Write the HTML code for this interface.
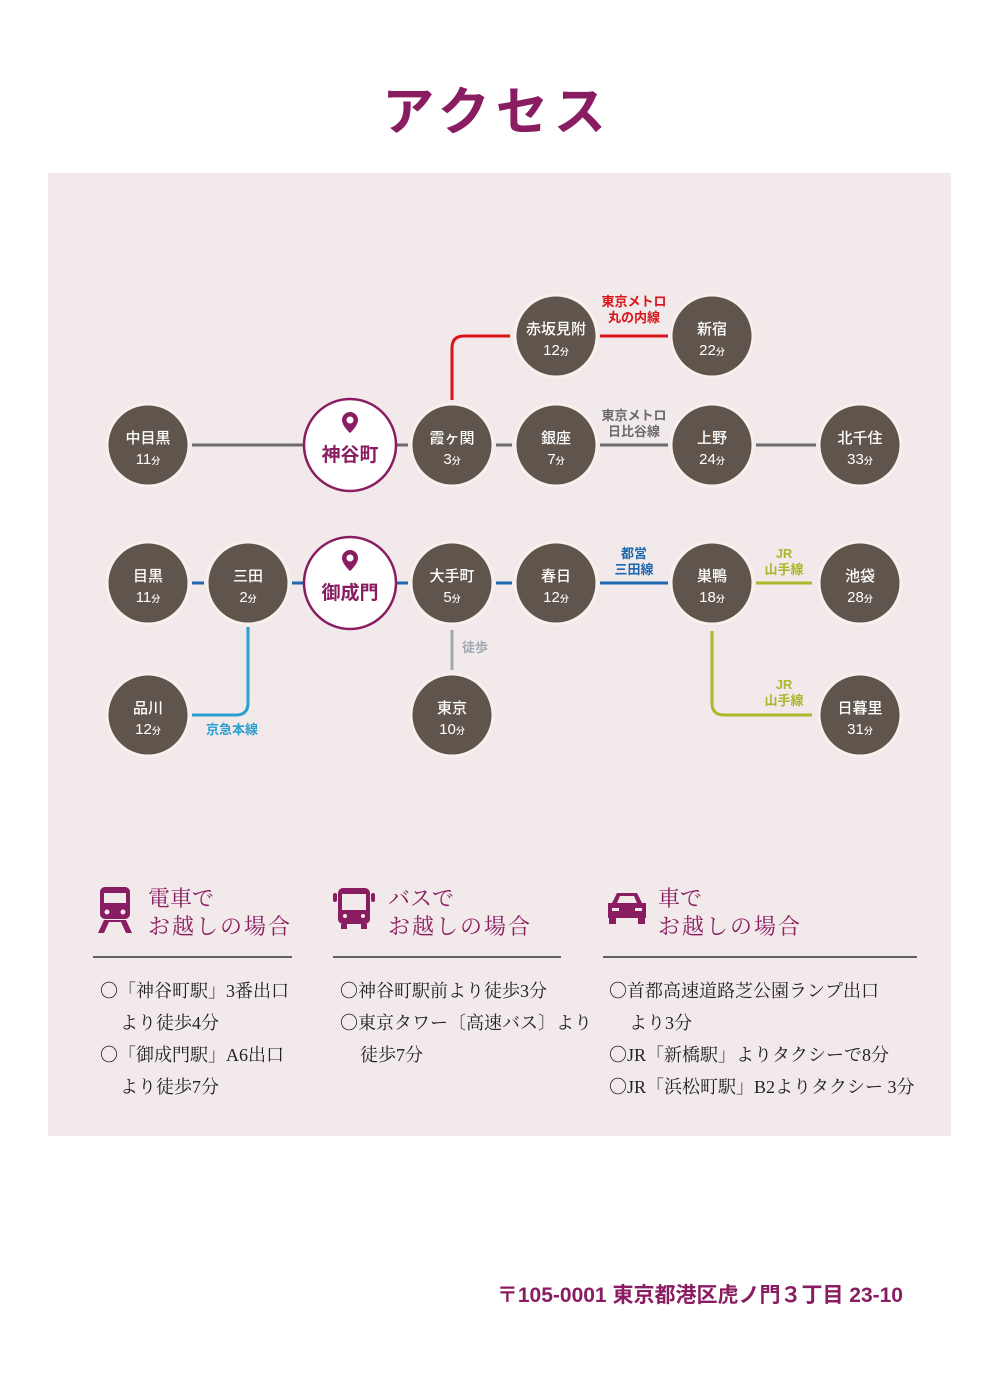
<!DOCTYPE html>
<html><head><meta charset="utf-8"><style>
html,body{margin:0;padding:0;background:#fff;}
svg{display:block}
.st{font-family:"Liberation Sans","Noto Sans CJK JP",sans-serif;fill:#fff;font-weight:500;text-anchor:middle}
.lb{font-family:"Liberation Sans","Noto Sans CJK JP",sans-serif;font-weight:bold;font-size:13px;text-anchor:middle}
.sr{font-family:"Liberation Serif","Noto Serif CJK SC",serif;}
</style></head><body>
<svg width="1000" height="1398" viewBox="0 0 1000 1398" xmlns="http://www.w3.org/2000/svg">
<text x="497" y="130" text-anchor="middle" font-family="Liberation Sans,Noto Sans CJK JP,sans-serif" font-weight="bold" font-size="52" fill="#8a1c62" letter-spacing="6">アクセス</text>
<rect x="48" y="173" width="903" height="963" fill="#f1e9ea"/>
<g fill="none" stroke-width="3">
<line x1="192" y1="445" x2="306" y2="445" stroke="#6b6b6b"/>
<line x1="394" y1="445" x2="408" y2="445" stroke="#6b6b6b"/>
<line x1="496" y1="445" x2="512" y2="445" stroke="#6b6b6b"/>
<line x1="600" y1="445" x2="668" y2="445" stroke="#6b6b6b"/>
<line x1="756" y1="445" x2="816" y2="445" stroke="#6b6b6b"/>
<path d="M452 400 V348 Q452 336 464 336 H510" stroke="#d9141a"/>
<line x1="600" y1="336" x2="668" y2="336" stroke="#d9141a"/>
<line x1="192" y1="583" x2="204" y2="583" stroke="#1f68b0"/>
<line x1="292" y1="583" x2="306" y2="583" stroke="#1f68b0"/>
<line x1="394" y1="583" x2="408" y2="583" stroke="#1f68b0"/>
<line x1="496" y1="583" x2="512" y2="583" stroke="#1f68b0"/>
<line x1="600" y1="583" x2="668" y2="583" stroke="#1f68b0"/>
<line x1="756" y1="583" x2="812" y2="583" stroke="#a9b92c"/>
<path d="M712 631 V703 Q712 715 724 715 H812" stroke="#a9b92c"/>
<path d="M248 627 V703 Q248 715 236 715 H192" stroke="#2a9fd0"/>
<line x1="452" y1="630" x2="452" y2="670" stroke="#a0a8b0"/>
</g>
<g fill="#5f554c" stroke="#f7f1ee" stroke-width="3">
<circle cx="148" cy="445" r="41"/><circle cx="452" cy="445" r="41"/><circle cx="556" cy="445" r="41"/>
<circle cx="712" cy="445" r="41"/><circle cx="860" cy="445" r="41"/><circle cx="556" cy="336" r="41"/><circle cx="712" cy="336" r="41"/>
<circle cx="148" cy="583" r="41"/><circle cx="248" cy="583" r="41"/><circle cx="452" cy="583" r="41"/><circle cx="556" cy="583" r="41"/>
<circle cx="712" cy="583" r="41"/><circle cx="860" cy="583" r="41"/><circle cx="148" cy="715" r="41"/><circle cx="452" cy="715" r="41"/><circle cx="860" cy="715" r="41"/>
</g>
<g fill="#fff" stroke="#8a1c62" stroke-width="2.5"><circle cx="350" cy="445" r="46"/><circle cx="350" cy="583" r="46"/></g>
<g fill="#8a1c62">
<path d="M350 412 a8 8 0 0 1 8 8 c0 6 -8 13 -8 13 c0 0 -8 -7 -8 -13 a8 8 0 0 1 8 -8z"/>
<path d="M350 550 a8 8 0 0 1 8 8 c0 6 -8 13 -8 13 c0 0 -8 -7 -8 -13 a8 8 0 0 1 8 -8z"/>
</g>
<g fill="#fff"><circle cx="350" cy="420" r="3.5"/><circle cx="350" cy="558" r="3.5"/></g>
<g font-family="Liberation Sans,Noto Sans CJK JP,sans-serif" font-weight="bold" font-size="19" fill="#8a1c62" text-anchor="middle">
<text x="350" y="461">神谷町</text><text x="350" y="599">御成門</text></g>
<g class="st" font-size="15">
<text x="148" y="443">中目黒</text><text x="148" y="464"><tspan font-size="15">11</tspan><tspan font-size="9">分</tspan></text>
<text x="452" y="443">霞ヶ関</text><text x="452" y="464">3<tspan font-size="9">分</tspan></text>
<text x="556" y="443">銀座</text><text x="556" y="464">7<tspan font-size="9">分</tspan></text>
<text x="712" y="443">上野</text><text x="712" y="464">24<tspan font-size="9">分</tspan></text>
<text x="860" y="443">北千住</text><text x="860" y="464">33<tspan font-size="9">分</tspan></text>
<text x="556" y="334">赤坂見附</text><text x="556" y="355">12<tspan font-size="9">分</tspan></text>
<text x="712" y="334">新宿</text><text x="712" y="355">22<tspan font-size="9">分</tspan></text>
<text x="148" y="581">目黒</text><text x="148" y="602">11<tspan font-size="9">分</tspan></text>
<text x="248" y="581">三田</text><text x="248" y="602">2<tspan font-size="9">分</tspan></text>
<text x="452" y="581">大手町</text><text x="452" y="602">5<tspan font-size="9">分</tspan></text>
<text x="556" y="581">春日</text><text x="556" y="602">12<tspan font-size="9">分</tspan></text>
<text x="712" y="581">巣鴨</text><text x="712" y="602">18<tspan font-size="9">分</tspan></text>
<text x="860" y="581">池袋</text><text x="860" y="602">28<tspan font-size="9">分</tspan></text>
<text x="148" y="713">品川</text><text x="148" y="734">12<tspan font-size="9">分</tspan></text>
<text x="452" y="713">東京</text><text x="452" y="734">10<tspan font-size="9">分</tspan></text>
<text x="860" y="713">日暮里</text><text x="860" y="734">31<tspan font-size="9">分</tspan></text>
</g>
<g class="lb">
<text x="634" y="306" fill="#d9141a">東京メトロ</text><text x="634" y="322" fill="#d9141a">丸の内線</text>
<text x="634" y="420" fill="#6b6b6b">東京メトロ</text><text x="634" y="436" fill="#6b6b6b">日比谷線</text>
<text x="634" y="558" fill="#1f68b0">都営</text><text x="634" y="574" fill="#1f68b0">三田線</text>
<text x="784" y="558" fill="#a9b92c">JR</text><text x="784" y="574" fill="#a9b92c">山手線</text>
<text x="784" y="689" fill="#a9b92c">JR</text><text x="784" y="705" fill="#a9b92c">山手線</text>
<text x="232" y="734" fill="#2a9fd0">京急本線</text>
<text x="475" y="652" fill="#a0a8b0">徒歩</text>
</g>
<g fill="#8a1c62">
<rect x="100" y="887" width="30" height="32" rx="5"/>
<rect x="104" y="893" width="22" height="10" fill="#f1e9ea"/>
<circle cx="107" cy="912" r="2.5" fill="#f1e9ea"/><circle cx="123" cy="912" r="2.5" fill="#f1e9ea"/>
<path d="M104 920 L98 933 H104 L109 922 H121 L126 933 H132 L126 920Z"/>
<rect x="338" y="888" width="32" height="36" rx="5"/>
<rect x="333" y="893" width="4" height="9" rx="2"/><rect x="371" y="893" width="4" height="9" rx="2"/>
<rect x="342" y="894" width="24" height="16" fill="#f1e9ea"/>
<circle cx="345" cy="916" r="2" fill="#f1e9ea"/><circle cx="363" cy="916" r="2" fill="#f1e9ea"/>
<rect x="341" y="924" width="6" height="5"/><rect x="361" y="924" width="6" height="5"/>
<path d="M612 903 L617 893 H637 L642 903 H646 V918 H608 V903Z"/>
<path d="M617 903 L620 896 H634 L637 903Z" fill="#f1e9ea"/>
<rect x="609" y="917" width="7" height="7"/><rect x="638" y="917" width="7" height="7"/>
<rect x="612" y="908" width="7" height="3" fill="#f1e9ea"/><rect x="635" y="908" width="7" height="3" fill="#f1e9ea"/>
</g>
<g class="sr" font-size="22" fill="#8a1c62">
<text x="148" y="906">電車で</text><text x="148" y="934" letter-spacing="2">お越しの場合</text>
<text x="388" y="906">バスで</text><text x="388" y="934" letter-spacing="2">お越しの場合</text>
<text x="658" y="906">車で</text><text x="658" y="934" letter-spacing="2">お越しの場合</text>
</g>
<g stroke="#333" stroke-width="1.5">
<line x1="93" y1="957" x2="292" y2="957"/><line x1="333" y1="957" x2="561" y2="957"/><line x1="603" y1="957" x2="917" y2="957"/>
</g>
<g class="sr" font-size="18" fill="#222">
<text x="100" y="997">〇「神谷町駅」3番出口</text><text x="120" y="1029">より徒歩4分</text>
<text x="100" y="1061">〇「御成門駅」A6出口</text><text x="120" y="1093">より徒歩7分</text>
<text x="340" y="997">〇神谷町駅前より徒歩3分</text><text x="340" y="1029">〇東京タワー〔高速バス〕より</text><text x="360" y="1061">徒歩7分</text>
<text x="609" y="997">〇首都高速道路芝公園ランプ出口</text><text x="629" y="1029">より3分</text>
<text x="609" y="1061">〇JR「新橋駅」よりタクシーで8分</text><text x="609" y="1093">〇JR「浜松町駅」B2よりタクシー 3分</text>
</g>
<text x="903" y="1302" text-anchor="end" font-family="Liberation Sans,Noto Sans CJK JP,sans-serif" font-weight="bold" font-size="21" fill="#8a1c62">〒105-0001 東京都港区虎ノ門３丁目 23-10</text>
</svg>
</body></html>
